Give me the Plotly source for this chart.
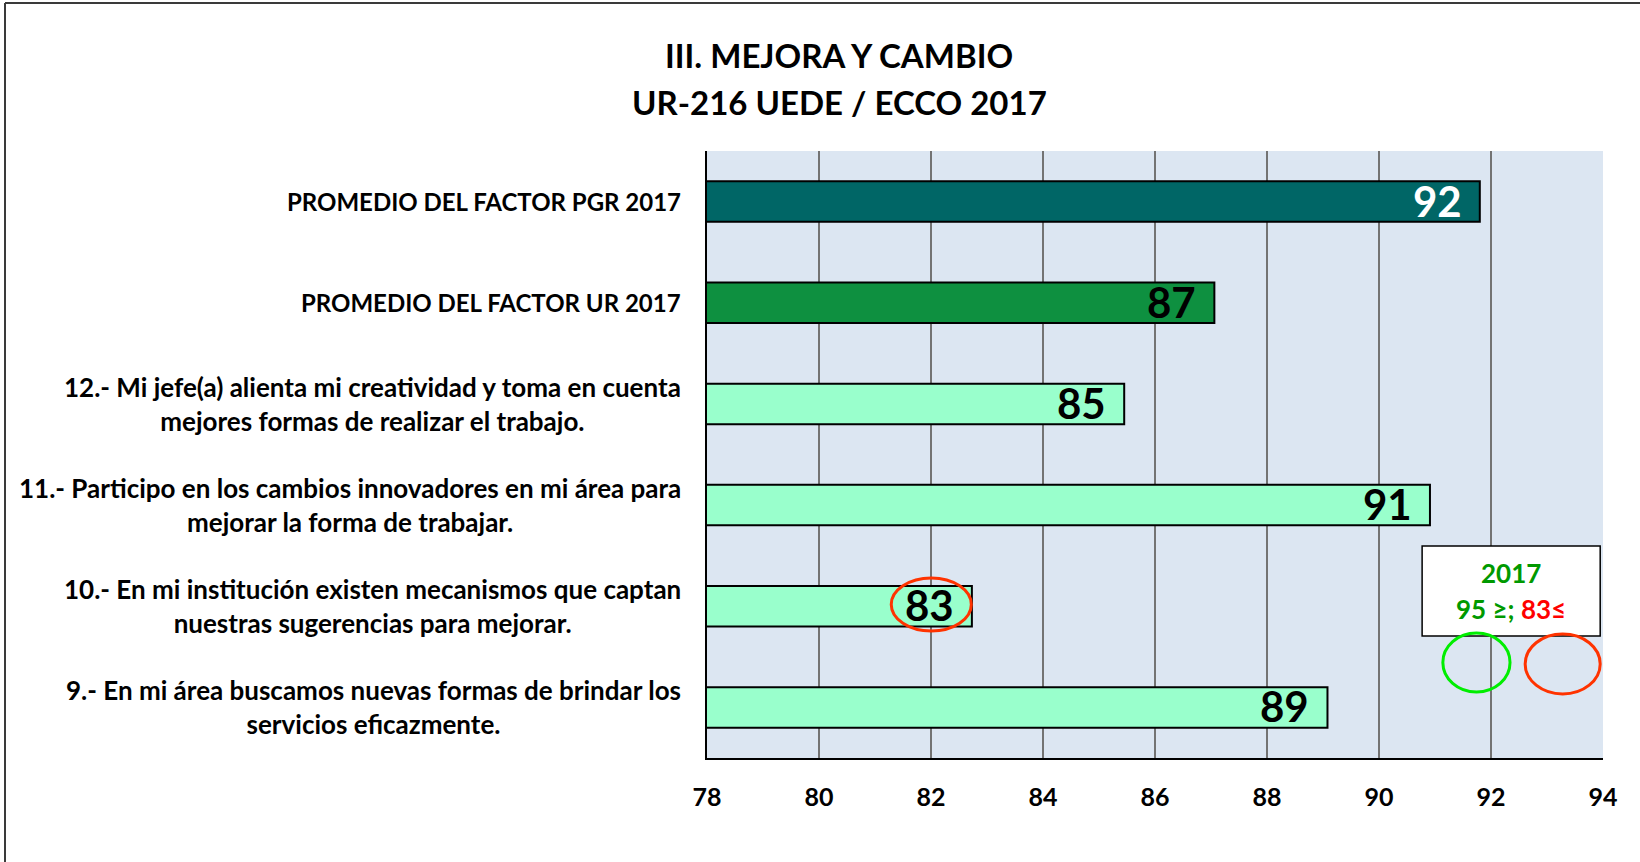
import plotly.graph_objects as go

# ---- data ----
categories = [
    "PROMEDIO DEL FACTOR PGR 2017",
    "PROMEDIO DEL FACTOR UR 2017",
    "12.- Mi jefe(a) alienta mi creatividad y toma en cuenta<br>mejores formas de realizar el trabajo.",
    "11.- Participo en los cambios innovadores en mi área para<br>mejorar la forma de trabajar.",
    "10.- En mi institución existen mecanismos que captan<br>nuestras sugerencias para mejorar.",
    "9.- En mi área buscamos nuevas formas de brindar los<br>servicios eficazmente.",
]
values = [91.8, 87.06, 85.45, 90.91, 82.73, 89.08]
value_labels = ["92", "87", "85", "91", "83", "89"]
x_ticks = [78, 80, 82, 84, 86, 88, 90, 92, 94]

# ---- styling ----
bar_colors = ["#006666", "#0E9040", "#99FFCC", "#99FFCC", "#99FFCC", "#99FFCC"]
label_colors = ["#FFFFFF", "#000000", "#000000", "#000000", "#000000", "#000000"]
cat_font_sizes = [24, 24, 26, 26, 26, 26]

FONT = "Lato, sans-serif"

# plot-area pixel geometry
PL, PR, PT, PB = 707, 1603, 151, 758
PW, PH = PR - PL, PB - PT


def px(x):
    return (x - PL) / PW


def py(y):
    return (PB - y) / PH


fig = go.Figure()
fig.add_trace(go.Bar(
    y=categories, x=values, orientation="h", base=0,
    marker=dict(color=bar_colors, line=dict(color="#000000", width=2)),
    width=0.4, hoverinfo="x", showlegend=False,
))

annotations = []
# category labels
for c, fs in zip(categories, cat_font_sizes):
    annotations.append(dict(
        x=px(683), xref="paper", y=c, yref="y", text="<b>%s</b>" % c,
        xanchor="right", yanchor="middle", align="center", showarrow=False,
        font=dict(family=FONT, size=fs, color="#000000"),
    ))
# value labels
for c, v, t, col in zip(categories, values, value_labels, label_colors):
    annotations.append(dict(
        x=v, xref="x", y=c, yref="y", text="<b>%s</b>" % t,
        xanchor="right", yanchor="middle", xshift=-16, yshift=1, showarrow=False,
        font=dict(family=FONT, size=42, color=col),
    ))
# title
annotations.append(dict(
    x=px(839), xref="paper", y=py(55.5), yref="paper",
    text="<b>III. MEJORA Y CAMBIO</b>", showarrow=False,
    xanchor="center", yanchor="middle", font=dict(family=FONT, size=33, color="#000000"),
))
annotations.append(dict(
    x=px(839), xref="paper", y=py(102.5), yref="paper",
    text="<b>UR-216 UEDE / ECCO 2017</b>", showarrow=False,
    xanchor="center", yanchor="middle", font=dict(family=FONT, size=33, color="#000000"),
))
# legend box text
annotations.append(dict(
    x=92.36, xref="x", y=3.671, yref="y", text="<b>2017</b>", showarrow=False,
    xanchor="center", yanchor="middle", font=dict(family=FONT, size=26, color="#009900"),
))
annotations.append(dict(
    x=92.36, xref="x", y=4.027, yref="y",
    text="<b><span style='color:#009900'>95 ≥; </span><span style='color:#FF0000'>83≤</span></b>",
    showarrow=False, xanchor="center", yanchor="middle",
    font=dict(family=FONT, size=26, color="#009900"),
))

shapes = [
    # outer chart border (top and left visible)
    dict(type="line", xref="paper", yref="paper",
         x0=px(5), x1=px(1700), y0=py(3), y1=py(3),
         line=dict(color="#3a3a3a", width=2), layer="above"),
    dict(type="line", xref="paper", yref="paper",
         x0=px(5), x1=px(5), y0=py(3), y1=py(900),
         line=dict(color="#3a3a3a", width=2), layer="above"),
    # red circle around lowest value
    dict(type="circle", xref="x", yref="y", x0=81.29, x1=82.72, y0=3.72, y1=4.245,
         line=dict(color="#FF3300", width=3), layer="above"),
    # legend box
    dict(type="rect", xref="x", yref="y", x0=90.77, x1=93.95, y0=3.404, y1=4.294,
         fillcolor="#FFFFFF", line=dict(color="#000000", width=1.5), layer="above"),
    dict(type="circle", xref="x", yref="y", x0=91.14, x1=92.34, y0=4.264, y1=4.847,
         line=dict(color="#00EE00", width=3), layer="above"),
    dict(type="circle", xref="x", yref="y", x0=92.61, x1=93.95, y0=4.274, y1=4.867,
         line=dict(color="#FF3300", width=3), layer="above"),
]

fig.update_layout(
    width=1640, height=862,
    margin=dict(l=PL, r=1640 - PR, t=PT, b=862 - PB, pad=0),
    paper_bgcolor="#FFFFFF", plot_bgcolor="#DCE6F2",
    font=dict(family=FONT, color="#000000"),
    annotations=annotations, shapes=shapes,
    bargap=0.6,
)
fig.update_xaxes(
    range=[78, 94], tickvals=x_ticks, ticktext=["<b>%d</b>" % t for t in x_ticks],
    tickfont=dict(family=FONT, size=25, color="#000000"),
    showgrid=True, gridcolor="#737373", gridwidth=1.5,
    showline=True, linecolor="#000000", linewidth=2,
    ticks="", ticklabelstandoff=16, zeroline=False, fixedrange=True,
)
fig.update_yaxes(
    categoryorder="array", categoryarray=categories, autorange="reversed",
    showticklabels=False, showgrid=False,
    showline=True, linecolor="#000000", linewidth=2, ticks="", fixedrange=True,
)

fig.write_html(
    "out.html",
    config={"displayModeBar": False},
    post_script="document.body.style.margin='0';document.body.style.overflow='hidden';",
)
